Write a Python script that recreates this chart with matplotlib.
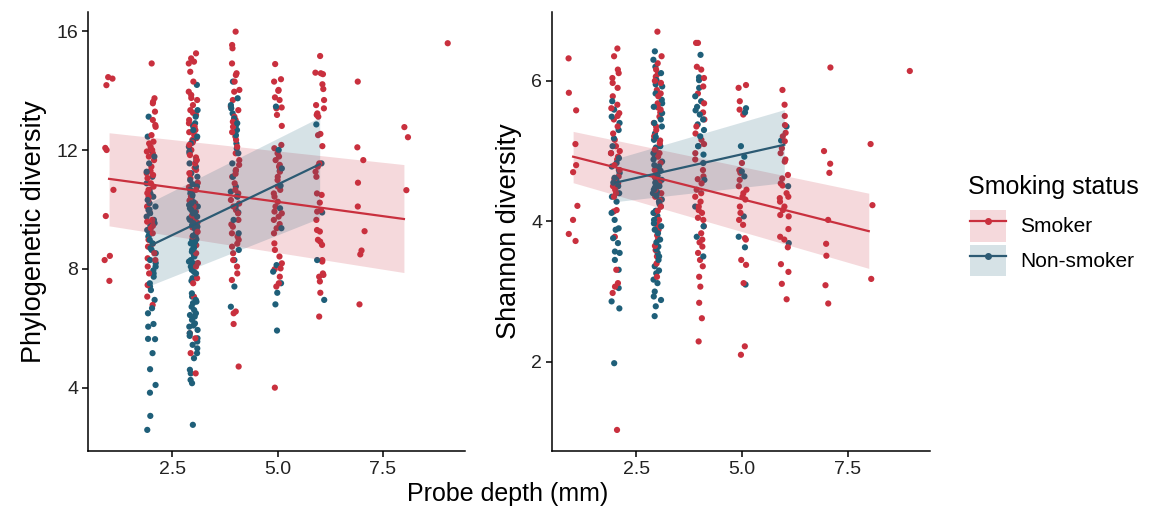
import numpy as np
import matplotlib
matplotlib.use("Agg")
import matplotlib.pyplot as plt
from matplotlib.patches import Patch
from matplotlib.lines import Line2D
from matplotlib.legend_handler import HandlerTuple

plt.rcParams['font.family'] = ['Liberation Sans', 'DejaVu Sans']

RED = '#C9303E'
BLUE = '#1F5F79'
BLUE_LINE = '#2C5A73'

# ---------------- data: Phylogenetic diversity ----------------
pd_smoker = {
    1: [14.45, 14.40, 14.18, 12.07, 12.00, 10.66, 9.78, 8.44, 8.30, 7.60],
    2: [14.91, 13.74, 13.62, 13.57, 13.29, 13.01, 12.84, 12.78, 12.50, 12.28, 12.22, 12.11,
        12.00, 11.89, 11.78, 11.66, 11.44, 11.22, 11.16, 11.05, 10.88, 10.77, 10.66, 10.43,
        10.32, 10.10, 9.65, 9.59, 9.54, 9.37, 9.20, 8.98, 8.75, 8.53, 8.36, 8.30, 8.08, 7.85,
        7.46, 7.07, 6.79, 11.95, 11.30, 10.55, 9.90, 9.45, 8.85],
    3: [15.25, 15.08, 14.97, 14.91, 14.63, 14.30, 13.96, 13.85, 13.68, 13.51, 13.34, 13.18,
        13.01, 12.90, 12.78, 12.67, 12.50, 12.40, 12.34, 12.17, 12.00, 11.83, 11.66, 11.55,
        11.33, 11.22, 11.05, 10.90, 10.88, 10.66, 10.43, 10.21, 10.10, 9.93, 9.80, 9.65, 9.40,
        9.09, 8.80, 8.53, 8.20, 8.08, 7.69, 7.52, 7.07, 5.84, 5.67, 5.17, 4.49,
        13.75, 13.25, 12.60, 12.25, 11.75, 11.40, 10.75, 10.30, 9.55, 9.25],
    4: [15.98, 15.53, 15.42, 14.91, 14.58, 14.52, 14.30, 14.02, 13.96, 13.68, 13.46, 13.34,
        13.12, 13.01, 12.78, 12.45, 12.34, 12.11, 11.89, 11.66, 11.33, 11.10, 10.88, 10.66,
        10.54, 10.32, 10.10, 9.98, 9.87, 9.65, 9.42, 9.20, 9.09, 8.98, 8.75, 8.53, 8.30, 8.08,
        7.85, 7.63, 6.57, 6.51, 6.15, 4.72, 12.95, 12.60, 11.50, 11.20, 10.45, 10.20, 9.50,
        8.85],
    5: [14.89, 14.38, 14.30, 14.02, 13.99, 13.77, 13.68, 13.43, 13.40, 13.18, 12.81, 12.17,
        12.06, 11.89, 11.78, 11.66, 11.50, 11.44, 11.27, 11.10, 10.99, 10.77, 10.66, 10.54,
        10.43, 10.26, 10.10, 9.93, 9.87, 9.76, 9.65, 9.51, 9.37, 9.20, 8.86, 8.64, 8.42, 8.19,
        8.02, 7.99, 7.74, 7.52, 7.41, 4.01],
    6: [15.16, 14.60, 14.58, 14.55, 14.21, 14.05, 13.68, 13.51, 13.40, 13.23, 13.18, 13.12,
        12.54, 12.50, 12.13, 11.55, 11.44, 11.27, 11.10, 10.54, 10.49, 10.23, 9.98, 9.93,
        9.65, 9.31, 9.26, 8.98, 8.92, 8.81, 8.30, 8.25, 7.85, 7.80, 7.74, 7.58, 7.20, 6.40],
    7: [14.30, 12.09, 11.66, 10.90, 10.10, 9.27, 8.62, 8.49, 6.81],
    8: [12.77, 12.43, 10.65],
    9: [15.59],
}
pd_nonsmoker = {
    2: [13.12, 12.45, 12.00, 11.78, 11.55, 11.27, 11.10, 10.88, 10.66, 10.54, 10.43, 10.32,
        10.21, 10.10, 9.98, 9.87, 9.76, 9.65, 9.54, 9.31, 9.20, 9.09, 8.98, 8.86, 8.64, 8.53,
        8.30, 8.08, 7.85, 7.74, 7.52, 7.41, 7.29, 6.96, 6.68, 6.51, 6.15, 6.06, 5.65, 5.64,
        5.17, 4.63, 4.10, 3.84, 3.06, 2.59, 10.00, 9.45, 9.15, 8.70, 8.20, 7.95],
    3: [14.19, 13.34, 13.12, 12.90, 12.67, 12.45, 12.22, 12.11, 11.89, 11.66, 11.44, 11.22,
        10.99, 10.77, 10.66, 10.54, 10.43, 10.32, 10.21, 10.10, 10.04, 9.98, 9.87, 9.76, 9.70,
        9.65, 9.54, 9.42, 9.31, 9.20, 9.09, 8.98, 8.86, 8.75, 8.64, 8.53, 8.42, 8.30, 8.19,
        8.08, 7.97, 7.85, 7.69, 7.18, 7.07, 6.96, 6.85, 6.73, 6.62, 6.51, 6.40, 6.29, 6.17,
        6.06, 5.95, 5.84, 5.67, 5.56, 5.33, 5.17, 5.00, 4.61, 4.49, 4.27, 4.16, 2.76,
        10.60, 10.15, 9.90, 9.60, 9.35, 9.00, 8.70, 8.45, 12.80, 12.30, 11.95, 11.55, 11.10,
        10.85, 10.48, 10.25, 9.80, 9.48, 9.12, 8.90, 8.58, 8.25, 7.90, 7.60, 6.90, 6.45,
        6.10, 5.75, 5.45],
    4: [14.30, 13.74, 13.51, 13.23, 13.06, 12.90, 12.67, 12.50, 12.22, 11.89, 11.55, 11.10,
        10.77, 10.43, 10.10, 9.65, 9.20, 8.64, 8.30, 7.41, 6.73, 13.40, 12.80, 12.05, 11.30,
        10.60, 9.90],
    5: [13.46, 12.00, 11.38, 11.30, 10.80, 10.04, 9.37, 8.13, 7.91, 7.52, 7.20, 6.81, 5.93],
    6: [12.86, 11.55, 9.90, 8.30, 6.96],
}

# ---------------- data: Shannon diversity ----------------
sh_smoker = {
    1: [6.32, 5.83, 5.58, 5.10, 4.80, 4.70, 4.22, 4.02, 3.82, 3.72],
    2: [6.46, 6.35, 6.16, 6.11, 6.04, 5.97, 5.78, 5.66, 5.61, 5.54, 5.45, 5.35, 5.25, 5.16,
        5.07, 4.97, 4.92, 4.88, 4.73, 4.64, 4.54, 4.50, 4.40, 4.35, 4.16, 4.14, 3.78, 3.31,
        3.12, 3.07, 2.98, 1.03, 5.90, 5.50, 5.00, 4.80, 4.60, 4.45],
    3: [6.70, 6.35, 6.25, 6.16, 6.06, 5.97, 5.87, 5.78, 5.68, 5.59, 5.49, 5.40, 5.30, 5.21,
        5.11, 5.02, 4.92, 4.83, 4.73, 4.64, 4.54, 4.45, 4.35, 4.21, 4.12, 4.02, 3.88, 3.74,
        3.59, 3.50, 3.40, 3.21, 6.00, 5.55, 5.15, 4.75, 4.30, 3.95, 3.65, 6.10, 5.82, 5.62,
        5.35, 4.97, 4.58, 4.40, 4.15, 3.80],
    4: [6.54, 6.54, 6.20, 6.16, 6.04, 5.92, 5.82, 5.68, 5.45, 5.35, 5.25, 5.16, 5.07, 4.97,
        4.88, 4.73, 4.64, 4.54, 4.45, 4.35, 4.28, 4.21, 4.16, 4.12, 4.02, 3.93, 3.83, 3.74,
        3.64, 3.55, 3.45, 3.36, 3.21, 3.07, 2.84, 2.62, 2.29, 5.55, 5.10, 4.60, 4.40, 4.05,
        3.70],
    5: [5.94, 5.90, 5.71, 5.59, 5.52, 4.83, 4.73, 4.69, 4.59, 4.50, 4.45, 4.40, 4.35, 4.31,
        4.21, 4.12, 4.02, 3.95, 3.76, 3.74, 3.45, 3.38, 3.12, 2.22, 2.10],
    6: [5.87, 5.66, 5.50, 5.37, 5.26, 5.21, 5.14, 5.04, 4.97, 4.88, 4.85, 4.66, 4.61, 4.54,
        4.51, 4.40, 4.35, 4.33, 4.28, 4.21, 4.16, 4.09, 4.07, 3.89, 3.78, 3.74, 3.63, 3.39,
        3.28, 3.11, 2.89],
    7: [6.19, 5.00, 4.82, 4.69, 4.02, 3.68, 3.51, 3.09, 2.83],
    8: [5.10, 4.23, 3.18],
    9: [6.14],
}
sh_nonsmoker = {
    2: [5.71, 5.59, 5.49, 5.40, 5.30, 5.18, 5.07, 4.97, 4.83, 4.73, 4.69, 4.59, 4.50, 4.40,
        4.28, 4.12, 4.02, 3.90, 3.88, 3.76, 3.69, 3.57, 3.55, 3.45, 3.31, 3.05, 2.86, 2.76,
        1.98, 4.90, 4.78, 4.62, 4.55, 4.35],
    3: [6.42, 6.30, 6.20, 6.11, 6.01, 5.92, 5.82, 5.73, 5.63, 5.54, 5.45, 5.35, 5.25, 5.16,
        5.07, 4.97, 4.88, 4.78, 4.69, 4.59, 4.50, 4.45, 4.40, 4.31, 4.21, 4.12, 4.02, 3.93,
        3.83, 3.74, 3.64, 3.55, 3.45, 3.36, 3.26, 3.17, 3.12, 3.00, 2.93, 2.79, 2.65,
        5.05, 4.92, 4.80, 4.65, 4.55, 4.48, 4.36, 4.25, 4.08, 3.97, 3.70, 3.50, 5.95, 5.68,
        5.40, 5.20, 5.00, 4.85, 4.72, 4.62, 4.52, 4.42, 4.28, 4.15, 3.88, 3.60, 3.30, 2.88],
    4: [6.37, 6.01, 5.78, 5.71, 5.63, 5.52, 5.45, 5.30, 5.21, 5.07, 4.83, 4.59, 4.21, 3.93,
        3.78, 3.50, 6.05, 5.90, 5.58, 5.38, 4.95],
    5: [5.61, 5.55, 5.07, 4.92, 4.71, 4.64, 4.07, 3.78, 3.63, 3.10],
    6: [5.35, 5.15, 4.50, 3.69],
}

# ---------------- linear fits ----------------
pd_smoker_fit_x = [1, 8]
pd_smoker_fit = [11.03, 9.68]
pd_smoker_lo = [9.45, 7.88]
pd_smoker_hi = [12.58, 11.51]
pd_non_fit_x = [2, 6]
pd_non_fit = [8.80, 11.52]
pd_non_lo = [7.46, 9.71]
pd_non_hi = [10.26, 13.10]

sh_smoker_fit_x = [1, 8]
sh_smoker_fit = [4.92, 3.86]
sh_smoker_lo = [4.55, 3.33]
sh_smoker_hi = [5.28, 4.40]
sh_non_fit_x = [2, 6]
sh_non_fit = [4.55, 5.09]
sh_non_lo = [4.28, 4.55]
sh_non_hi = [4.89, 5.59]

x_ticks = [2.5, 5.0, 7.5]
x_tick_labels = ['2.5', '5.0', '7.5']
pd_y_ticks = [4, 8, 12, 16]
sh_y_ticks = [2, 4, 6]
legend_labels = ['Smoker', 'Non-smoker']

JIT = 0.11


def jitter_offsets(n, key):
    # deterministic, decorrelated horizontal spread for the jittered points
    i = np.arange(n) + 1.0
    h = np.sin(i * 12.9898 + key * 78.233) * 43758.5453
    return ((h - np.floor(h)) - 0.5) * 2 * JIT


def jittered(groups, key):
    xs, ys = [], []
    for d, vals in groups.items():
        xs.append(d + jitter_offsets(len(vals), key + d * 3.1))
        ys.append(np.asarray(vals, float))
    return np.concatenate(xs), np.concatenate(ys)


def panel(ax, smk, non, fits, ylim, yticks, ylabel, key):
    xs_s, ys_s = jittered(smk, key)
    xs_n, ys_n = jittered(non, key + 17.3)
    x = np.concatenate([xs_s, xs_n])
    y = np.concatenate([ys_s, ys_n])
    c = np.array([RED] * len(xs_s) + [BLUE] * len(xs_n))
    h = np.sin(np.arange(len(x)) * 4.1414 + 1.7) * 9341.77
    order = np.argsort(h - np.floor(h))
    ax.scatter(x[order], y[order], s=20, c=c[order], linewidths=0, zorder=2)
    (sx, sf, slo, shi), (nx, nf, nlo, nhi) = fits
    ax.fill_between(sx, slo, shi, color=RED, alpha=0.18, linewidth=0, zorder=3)
    ax.fill_between(nx, nlo, nhi, color=BLUE, alpha=0.18, linewidth=0, zorder=3)
    ax.plot(sx, sf, color=RED, lw=1.6, zorder=4)
    ax.plot(nx, nf, color=BLUE_LINE, lw=1.6, zorder=4)
    ax.set_xlim(0.5, 9.45)
    ax.set_ylim(*ylim)
    ax.set_xticks(x_ticks)
    ax.set_xticklabels(x_tick_labels)
    ax.set_yticks(yticks)
    ax.set_ylabel(ylabel, fontsize=19.5, labelpad=7)
    for s in ['top', 'right']:
        ax.spines[s].set_visible(False)
    for s in ['left', 'bottom']:
        ax.spines[s].set_linewidth(1.1)
        ax.spines[s].set_color('black')
    ax.tick_params(axis='both', length=4, width=1.1, color='black',
                   labelsize=14, labelcolor='#222222', pad=3)


fig = plt.figure(figsize=(11.57, 5.12), dpi=100)
ax1 = fig.add_axes([88 / 1157, 61 / 512, 377 / 1157, 439 / 512])
ax2 = fig.add_axes([552 / 1157, 61 / 512, 378 / 1157, 439 / 512])

panel(ax1, pd_smoker, pd_nonsmoker,
      ((pd_smoker_fit_x, pd_smoker_fit, pd_smoker_lo, pd_smoker_hi),
       (pd_non_fit_x, pd_non_fit, pd_non_lo, pd_non_hi)),
      (1.88, 16.64), pd_y_ticks, 'Phylogenetic diversity', 1.0)
panel(ax2, sh_smoker, sh_nonsmoker,
      ((sh_smoker_fit_x, sh_smoker_fit, sh_smoker_lo, sh_smoker_hi),
       (sh_non_fit_x, sh_non_fit, sh_non_lo, sh_non_hi)),
      (0.73, 6.98), sh_y_ticks, 'Shannon diversity', 5.0)

fig.text(508 / 1157, 1 - 494 / 512, 'Probe depth (mm)', ha='center', va='center', fontsize=18)

# legend title as its own text, entries below
fig.text(968 / 1157, 1 - 187 / 512, 'Smoking status', ha='left', va='center', fontsize=18)

handles = [
    (Patch(facecolor=RED, alpha=0.18, edgecolor='none'),
     Line2D([], [], color=RED, lw=1.6, marker='o', ms=4)),
    (Patch(facecolor=BLUE, alpha=0.18, edgecolor='none'),
     Line2D([], [], color=BLUE_LINE, lw=1.6, marker='o', ms=4)),
]
leg = fig.legend(handles, legend_labels, loc='upper left',
                 bbox_to_anchor=(970 / 1157, 1 - 210 / 512), frameon=False,
                 fontsize=15,
                 handler_map={tuple: HandlerTuple(ndivide=1, pad=0)},
                 handlelength=1.75, handleheight=1.95, labelspacing=0.15,
                 handletextpad=0.65, borderpad=0.0, borderaxespad=0)

fig.savefig('out.png', dpi=100)
